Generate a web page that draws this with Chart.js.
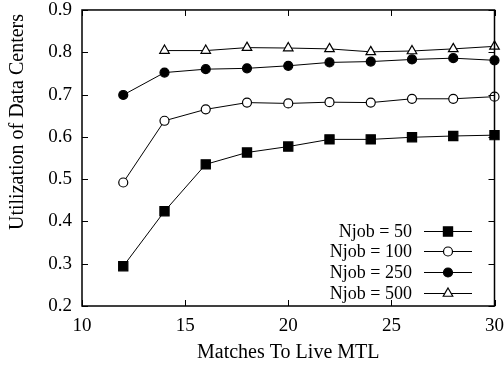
<!DOCTYPE html>
<html>
<head>
<meta charset="utf-8">
<script src="https://cdn.jsdelivr.net/npm/chart.js@4.4.0/dist/chart.umd.min.js"></script>
<style>
  html, body { margin: 0; padding: 0; background: #fff; overflow: hidden; }
</style>
</head>
<body>
<canvas id="c" width="504" height="367"></canvas>
<script>
const matches = [12, 14, 16, 18, 20, 22, 24, 26, 28, 30];
const njob50 = [0.294, 0.424, 0.535, 0.563, 0.577, 0.594, 0.594, 0.599, 0.602, 0.604];
const njob100 = [0.492, 0.638, 0.665, 0.681, 0.679, 0.682, 0.681, 0.690, 0.690, 0.695];
const njob250 = [0.699, 0.752, 0.760, 0.762, 0.768, 0.776, 0.778, 0.783, 0.786, 0.781];
const njob500 = [null, 0.804, 0.804, 0.811, 0.810, 0.808, 0.801, 0.803, 0.808, 0.814];
const xTicks = [10, 15, 20, 25, 30];
const yTicks = [0.2, 0.3, 0.4, 0.5, 0.6, 0.7, 0.8, 0.9];
const seriesNames = ['Njob = 50', 'Njob = 100', 'Njob = 250', 'Njob = 500'];

const FONT = 'Liberation Serif, Times New Roman, serif';

function toPoints(vals) {
  return matches.map((m, i) => ({ x: m, y: vals[i] })).filter(p => p.y !== null);
}

const styles = [
  { pointStyle: 'rect', radius: 6.5, fill: '#000' },
  { pointStyle: 'circle', radius: 4.5, fill: '#fff' },
  { pointStyle: 'circle', radius: 4.5, fill: '#000' },
  { pointStyle: 'triangle', radius: 5.5, fill: '#fff' }
];

const datasets = [njob50, njob100, njob250, njob500].map((vals, i) => ({
  label: seriesNames[i],
  data: toPoints(vals),
  borderColor: '#000',
  borderWidth: 1,
  pointStyle: styles[i].pointStyle,
  pointRadius: styles[i].radius,
  pointBackgroundColor: styles[i].fill,
  pointBorderColor: '#000',
  pointBorderWidth: 1.2,
  tension: 0,
  clip: false
}));

// frame, inward mirrored ticks, y title and the key inside the plot
const frame = {
  id: 'frame',
  afterDatasetsDraw(chart) {
    const ctx = chart.ctx;
    const xs = chart.scales.x, ys = chart.scales.y;
    const L = xs.getPixelForValue(xTicks[0]);
    const R = xs.getPixelForValue(xTicks[xTicks.length - 1]);
    const T = ys.getPixelForValue(yTicks[yTicks.length - 1]);
    const B = ys.getPixelForValue(yTicks[0]);
    ctx.save();
    ctx.strokeStyle = '#000';
    ctx.lineWidth = 1.5;
    ctx.strokeRect(L, T, R - L, B - T);
    ctx.lineWidth = 1;
    ctx.beginPath();
    xTicks.forEach(v => {
      const px = Math.round(xs.getPixelForValue(v)) + 0.5;
      ctx.moveTo(px, B); ctx.lineTo(px, B - 6);
      ctx.moveTo(px, T); ctx.lineTo(px, T + 6);
    });
    yTicks.forEach(v => {
      const py = Math.round(ys.getPixelForValue(v)) + 0.5;
      ctx.moveTo(L, py); ctx.lineTo(L + 6, py);
      ctx.moveTo(R, py); ctx.lineTo(R - 6, py);
    });
    ctx.stroke();

    // y title
    ctx.save();
    ctx.translate(18, 122);
    ctx.rotate(-Math.PI / 2);
    ctx.font = '20px ' + FONT;
    ctx.fillStyle = '#000';
    ctx.textAlign = 'center';
    ctx.textBaseline = 'middle';
    ctx.fillText('Utilization of Data Centers', 0, 0);
    ctx.restore();

    // key
    const rows = [231, 251, 272, 293];
    ctx.font = '18px ' + FONT;
    ctx.textAlign = 'right';
    ctx.textBaseline = 'middle';
    seriesNames.forEach((name, i) => {
      const y = rows[i];
      ctx.fillStyle = '#000';
      ctx.fillText(name, 412, y + 1);
      ctx.beginPath();
      ctx.lineWidth = 1;
      ctx.moveTo(424, y + 0.5); ctx.lineTo(472, y + 0.5);
      ctx.stroke();
      ctx.fillStyle = styles[i].fill;
      ctx.strokeStyle = '#000';
      ctx.lineWidth = 1.2;
      Chart.helpers.drawPoint(ctx, {
        pointStyle: styles[i].pointStyle,
        radius: styles[i].radius,
        rotation: 0,
        borderWidth: 1.2
      }, 448, y + 0.5);
    });
    ctx.restore();
  }
};

new Chart(document.getElementById('c'), {
  type: 'line',
  data: { datasets: datasets },
  options: {
    responsive: false,
    animation: false,
    layout: { padding: { left: 0, right: 0, top: 0, bottom: 0 } },
    plugins: { legend: { display: false }, tooltip: { enabled: false } },
    scales: {
      x: {
        type: 'linear',
        min: 10, max: 30,
        afterFit(scale) { scale.height = 61; },
        afterBuildTicks(scale) { scale.ticks = xTicks.map(v => ({ value: v })); },
        grid: { display: false, drawTicks: true, tickLength: 9 },
        border: { display: false },
        ticks: { color: '#000', padding: 0, maxRotation: 0, font: { family: FONT, size: 19 } },
        title: { display: true, text: 'Matches To Live MTL', color: '#000',
                 padding: { top: 0, bottom: 2 }, font: { family: FONT, size: 20 } }
      },
      y: {
        type: 'linear',
        min: 0.2, max: 0.9,
        afterFit(scale) { scale.width = 82; },
        afterBuildTicks(scale) { scale.ticks = yTicks.map(v => ({ value: v })); },
        grid: { display: false, drawTicks: true, tickLength: 10 },
        border: { display: false },
        ticks: { color: '#000', padding: 0, font: { family: FONT, size: 19, lineHeight: 1.05 },
                 callback: v => v.toFixed(1) },
        title: { display: false }
      }
    }
  },
  plugins: [frame]
});
</script>
</body>
</html>
